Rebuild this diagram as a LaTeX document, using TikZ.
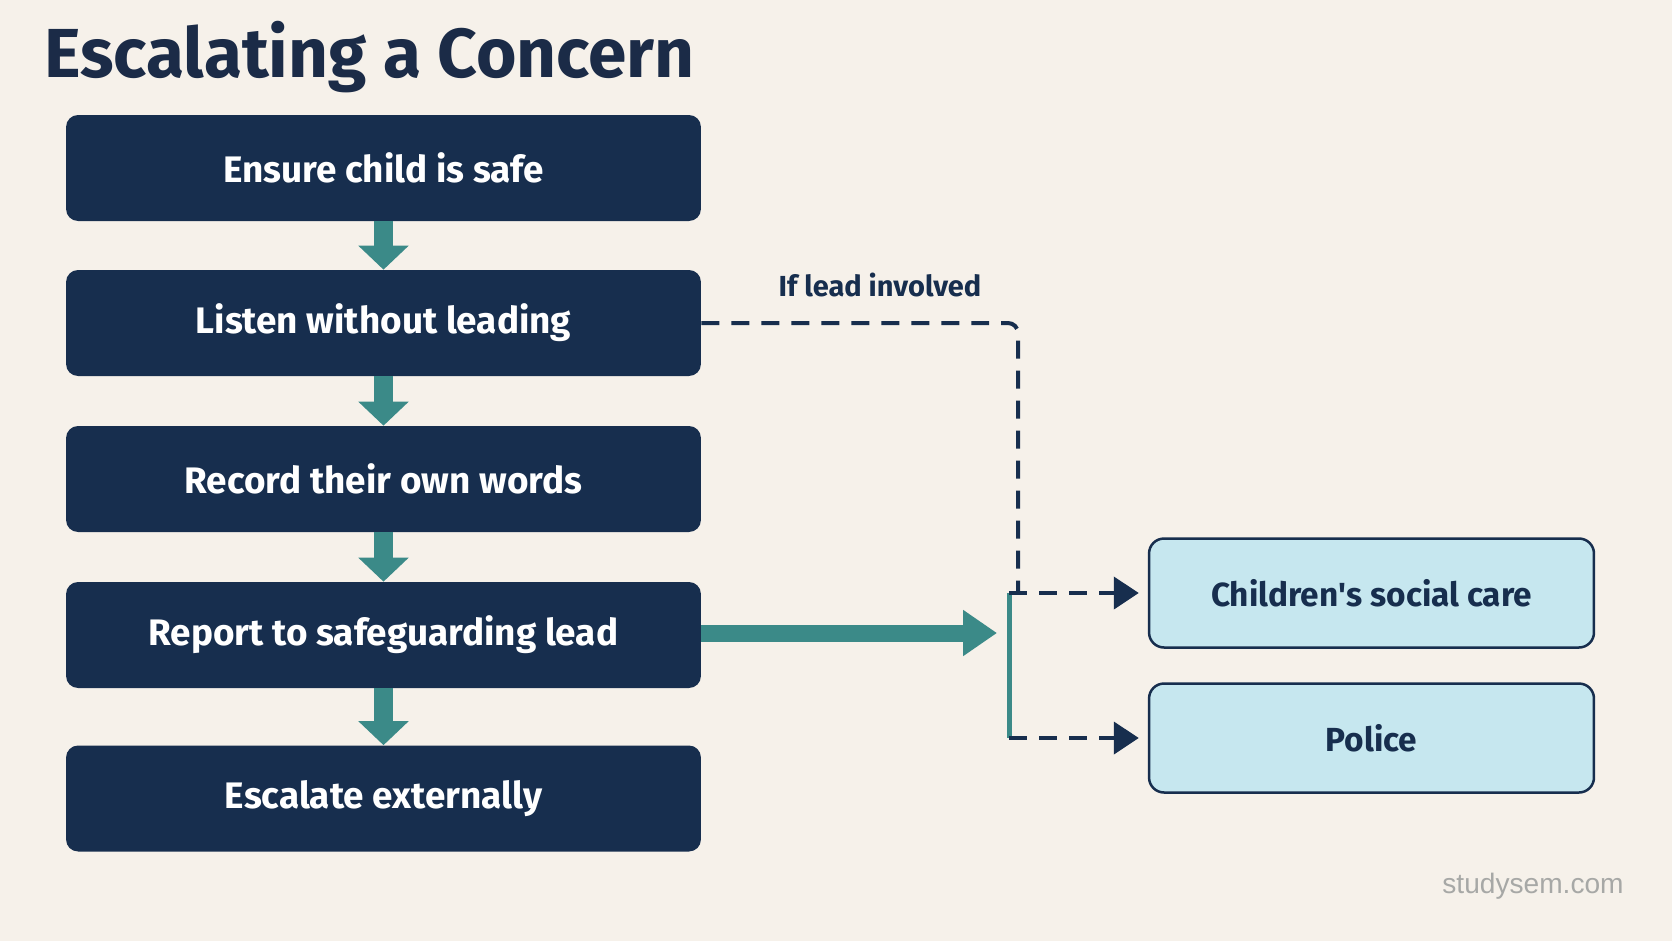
\documentclass[tikz,border=0pt]{standalone}
\usepackage{fontspec}
\setmainfont{Fira Sans}
\newfontfamily\markfont{Liberation Sans}
\usetikzlibrary{arrows.meta,positioning}
\definecolor{paper}{HTML}{F6F1EA}
\definecolor{navy}{HTML}{172E4E}
\definecolor{titleink}{HTML}{1B2B47}
\definecolor{flow}{HTML}{3B8A88}
\definecolor{sky}{HTML}{C6E7EF}
\definecolor{markgray}{HTML}{A7A8A6}

\begin{document}
\begin{tikzpicture}[x=0.02cm,y=-0.02cm,
    stepbox/.style={rectangle,rounded corners=0.24cm,fill=navy,text=white,minimum width=12.7cm,minimum height=2.12cm,font=\bfseries\fontsize{21}{25}\selectfont},
    agency/.style={rectangle,rounded corners=0.3cm,draw=navy,line width=0.05cm,fill=sky,text=navy,minimum width=8.9cm,minimum height=2.18cm,font=\bfseries\fontsize{19}{23}\selectfont},
    down/.style={-{Triangle[length=0.48cm,width=0.98cm]},line width=0.38cm,draw=flow},
    across/.style={-{Triangle[length=0.68cm,width=0.88cm]},line width=0.34cm,draw=flow},
    maybe/.style={draw=navy,line width=0.08cm,dash pattern=on 0.36cm off 0.24cm},
    maybearr/.style={maybe,-{Triangle[length=0.5cm,width=0.64cm]}}
  ]
  \fill[paper] (0,0) rectangle (1672,941);
  \useasboundingbox (0,0) rectangle (1672,941);

  \node[anchor=base west,text=titleink,font=\bfseries\fontsize{39.5}{46}\selectfont] (title) at (38,77) {Escalating a Concern};

  % steps down the left
  \node[stepbox] (safe) at (383.5,168) {Ensure child is safe};
  \node[stepbox] (listen) at (383.5,323) {Listen without leading};
  \node[stepbox] (record) at (383.5,479) {Record their own words};
  \node[stepbox] (report) at (383.5,635) {Report to safeguarding lead};
  \node[stepbox] (escalate) at (383.5,798.5) {Escalate externally};

  \draw[down] (safe) -- (listen);
  \draw[down] (listen) -- (record);
  \draw[down] (record) -- (report);
  \draw[down] (report) -- (escalate);

  % external agencies
  \node[agency] (care) at (1371.5,593) {Children\textquotesingle s social care};
  \node[agency] (police) at (1371.5,738) {Police};

  \coordinate (hub) at (997,633);
  \coordinate (forktop) at (1009,593);
  \coordinate (forkbot) at (1009,738);
  \coordinate (bend) at (1018,593);

  \draw[across] (report.east |- hub) -- (hub);
  \draw[flow,line width=0.1cm] (forktop) -- (forkbot);
  \draw[maybearr,shorten >=0.18cm] (forktop) -- (care.west);
  \draw[maybearr,shorten >=0.18cm] (forkbot) -- (police.west);
  \draw[maybe,rounded corners=0.2cm] (listen.east) -| (bend);

  \node[text=navy,font=\bfseries\fontsize{16.5}{20}\selectfont] (iflead) at (880,285) {If lead involved};

  \node[text=markgray,font=\markfont\fontsize{16}{19}\selectfont] (mark) at (1533,886) {studysem.com};
\end{tikzpicture}
\end{document}
